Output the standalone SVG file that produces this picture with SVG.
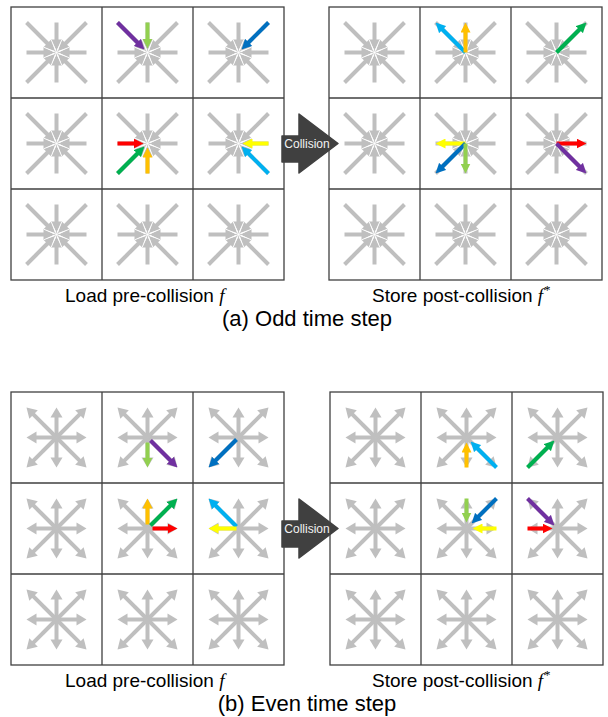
<svg xmlns="http://www.w3.org/2000/svg" width="608" height="717" viewBox="0 0 608 717">
<style>
  .grid{fill:#fff;stroke:#404040;stroke-width:1.3}
  .gl{fill:none;stroke:#404040;stroke-width:1.3}
  .gs{stroke:#bfbfbf;stroke-width:4;fill:none}
  .gh{fill:#bfbfbf}
  .sep{stroke:#fff;stroke-width:0.8}
  .c{stroke-width:4;fill:none}
  .purple{stroke:#7030a0;marker-end:url(#m-purple)}
  .lgreen{stroke:#92d050;marker-end:url(#m-lgreen)}
  .dblue{stroke:#0070c0;marker-end:url(#m-dblue)}
  .red{stroke:#ff0000;marker-end:url(#m-red)}
  .green{stroke:#00b050;marker-end:url(#m-green)}
  .orange{stroke:#ffc000;marker-end:url(#m-orange)}
  .yellow{stroke:#ffff00;marker-end:url(#m-yellow)}
  .lblue{stroke:#00b0f0;marker-end:url(#m-lblue)}
  .label{font-family:"Liberation Sans",Arial,sans-serif;font-size:19px;fill:#000}
  .math{font-family:"Liberation Serif","Times New Roman",serif;font-style:italic}
  .sup{font-family:"Liberation Serif","Times New Roman",serif;font-size:13px}
  .caption{font-size:22px;text-anchor:middle}
  .coll{fill:#404040;stroke:#404040;stroke-width:1.5;stroke-linejoin:round}
  .colltext{font-family:"Liberation Sans",Arial,sans-serif;font-size:12px;fill:#f2f2f2;text-anchor:middle}
</style>
<defs>
  <!-- coloured arrowheads -->
  <marker id="m-purple" viewBox="0 0 10 10" refX="3" refY="5" markerWidth="10" markerHeight="10" markerUnits="userSpaceOnUse" orient="auto"><path d="M0,0L10,5L0,10z" fill="#7030a0"/></marker>
  <marker id="m-lgreen" viewBox="0 0 10 10" refX="3" refY="5" markerWidth="10" markerHeight="10" markerUnits="userSpaceOnUse" orient="auto"><path d="M0,0L10,5L0,10z" fill="#92d050"/></marker>
  <marker id="m-dblue" viewBox="0 0 10 10" refX="3" refY="5" markerWidth="10" markerHeight="10" markerUnits="userSpaceOnUse" orient="auto"><path d="M0,0L10,5L0,10z" fill="#0070c0"/></marker>
  <marker id="m-red" viewBox="0 0 10 10" refX="3" refY="5" markerWidth="10" markerHeight="10" markerUnits="userSpaceOnUse" orient="auto"><path d="M0,0L10,5L0,10z" fill="#ff0000"/></marker>
  <marker id="m-green" viewBox="0 0 10 10" refX="3" refY="5" markerWidth="10" markerHeight="10" markerUnits="userSpaceOnUse" orient="auto"><path d="M0,0L10,5L0,10z" fill="#00b050"/></marker>
  <marker id="m-orange" viewBox="0 0 10 10" refX="3" refY="5" markerWidth="10" markerHeight="10" markerUnits="userSpaceOnUse" orient="auto"><path d="M0,0L10,5L0,10z" fill="#ffc000"/></marker>
  <marker id="m-yellow" viewBox="0 0 10 10" refX="3" refY="5" markerWidth="10" markerHeight="10" markerUnits="userSpaceOnUse" orient="auto"><path d="M0,0L10,5L0,10z" fill="#ffff00"/></marker>
  <marker id="m-lblue" viewBox="0 0 10 10" refX="3" refY="5" markerWidth="10" markerHeight="10" markerUnits="userSpaceOnUse" orient="auto"><path d="M0,0L10,5L0,10z" fill="#00b0f0"/></marker>

  <!-- inward-pointing lattice arms (heads meet at the node) -->
  <g id="armInA"><line class="gs" x1="30" y1="0" x2="12" y2="0"/><polygon class="gh" points="2,0 13,-5.5 13,5.5"/></g>
  <g id="armInD"><line class="gs" x1="42.4" y1="0" x2="12" y2="0"/><polygon class="gh" points="2,0 13,-5.5 13,5.5"/></g>
  <g id="starIn">
    <use href="#armInA"/>
    <use href="#armInA" transform="rotate(90)"/>
    <use href="#armInA" transform="rotate(180)"/>
    <use href="#armInA" transform="rotate(270)"/>
    <use href="#armInD" transform="rotate(45)"/>
    <use href="#armInD" transform="rotate(135)"/>
    <use href="#armInD" transform="rotate(225)"/>
    <use href="#armInD" transform="rotate(315)"/>
    <circle r="2.5" fill="#bfbfbf"/>
    <g class="sep">
      <line x1="0" y1="0" x2="14" y2="0" transform="rotate(22.5)"/>
      <line x1="0" y1="0" x2="14" y2="0" transform="rotate(67.5)"/>
      <line x1="0" y1="0" x2="14" y2="0" transform="rotate(112.5)"/>
      <line x1="0" y1="0" x2="14" y2="0" transform="rotate(157.5)"/>
      <line x1="0" y1="0" x2="14" y2="0" transform="rotate(202.5)"/>
      <line x1="0" y1="0" x2="14" y2="0" transform="rotate(247.5)"/>
      <line x1="0" y1="0" x2="14" y2="0" transform="rotate(292.5)"/>
      <line x1="0" y1="0" x2="14" y2="0" transform="rotate(337.5)"/>
    </g>
  </g>

  <!-- outward-pointing lattice arms -->
  <g id="armOutA"><line class="gs" x1="0" y1="0" x2="21" y2="0"/><polygon class="gh" points="30,0 20,-6 20,6"/></g>
  <g id="armOutD"><line class="gs" x1="0" y1="0" x2="33.4" y2="0"/><polygon class="gh" points="42.4,0 32.4,-6 32.4,6"/></g>
  <g id="starOut">
    <use href="#armOutA"/>
    <use href="#armOutA" transform="rotate(90)"/>
    <use href="#armOutA" transform="rotate(180)"/>
    <use href="#armOutA" transform="rotate(270)"/>
    <use href="#armOutD" transform="rotate(45)"/>
    <use href="#armOutD" transform="rotate(135)"/>
    <use href="#armOutD" transform="rotate(225)"/>
    <use href="#armOutD" transform="rotate(315)"/>
  </g>

  <path id="gridLines" class="gl" d="M91,0V273M182,0V273M0,91H273M0,182H273"/>
</defs>

<!-- (a) odd step: load -->
<g id="odd-load" transform="translate(11,7)">
  <rect class="grid" width="273" height="273"/>
  <use href="#gridLines"/>
  <g id="odd-load-r0c0" transform="translate(45.5,45.5)"><use href="#starIn"/></g>
  <g id="odd-load-r0c1" transform="translate(136.5,45.5)"><use href="#starIn"/>
    <line class="c purple" x1="-30" y1="-30" x2="-8" y2="-8"/>
    <line class="c lgreen" x1="0" y1="-30" x2="0" y2="-11"/>
  </g>
  <g id="odd-load-r0c2" transform="translate(227.5,45.5)"><use href="#starIn"/>
    <line class="c dblue" x1="30" y1="-30" x2="8" y2="-8"/>
  </g>
  <g id="odd-load-r1c0" transform="translate(45.5,136.5)"><use href="#starIn"/></g>
  <g id="odd-load-r1c1" transform="translate(136.5,136.5)"><use href="#starIn"/>
    <line class="c red" x1="-30" y1="0" x2="-11" y2="0"/>
    <line class="c green" x1="-30" y1="30" x2="-8" y2="8"/>
    <line class="c orange" x1="0" y1="30" x2="0" y2="11"/>
  </g>
  <g id="odd-load-r1c2" transform="translate(227.5,136.5)"><use href="#starIn"/>
    <line class="c yellow" x1="30" y1="0" x2="11" y2="0"/>
    <line class="c lblue" x1="30" y1="30" x2="8" y2="8"/>
  </g>
  <g id="odd-load-r2c0" transform="translate(45.5,227.5)"><use href="#starIn"/></g>
  <g id="odd-load-r2c1" transform="translate(136.5,227.5)"><use href="#starIn"/></g>
  <g id="odd-load-r2c2" transform="translate(227.5,227.5)"><use href="#starIn"/></g>
</g>

<!-- (a) odd step: store -->
<g id="odd-store" transform="translate(329,7)">
  <rect class="grid" width="273" height="273"/>
  <use href="#gridLines"/>
  <g id="odd-store-r0c0" transform="translate(45.5,45.5)"><use href="#starIn"/></g>
  <g id="odd-store-r0c1" transform="translate(136.5,45.5)"><use href="#starIn"/>
    <line class="c lblue" x1="0" y1="0" x2="-25" y2="-25"/>
    <line class="c orange" x1="0" y1="0" x2="0" y2="-23"/>
  </g>
  <g id="odd-store-r0c2" transform="translate(227.5,45.5)"><use href="#starIn"/>
    <line class="c green" x1="0" y1="0" x2="25" y2="-25"/>
  </g>
  <g id="odd-store-r1c0" transform="translate(45.5,136.5)"><use href="#starIn"/></g>
  <g id="odd-store-r1c1" transform="translate(136.5,136.5)"><use href="#starIn"/>
    <line class="c yellow" x1="0" y1="0" x2="-23" y2="0"/>
    <line class="c dblue" x1="0" y1="0" x2="-25" y2="25"/>
    <line class="c lgreen" x1="0" y1="0" x2="0" y2="23"/>
  </g>
  <g id="odd-store-r1c2" transform="translate(227.5,136.5)"><use href="#starIn"/>
    <line class="c red" x1="0" y1="0" x2="23" y2="0"/>
    <line class="c purple" x1="0" y1="0" x2="25" y2="25"/>
  </g>
  <g id="odd-store-r2c0" transform="translate(45.5,227.5)"><use href="#starIn"/></g>
  <g id="odd-store-r2c1" transform="translate(136.5,227.5)"><use href="#starIn"/></g>
  <g id="odd-store-r2c2" transform="translate(227.5,227.5)"><use href="#starIn"/></g>
</g>

<!-- (b) even step: load -->
<g id="even-load" transform="translate(11,392)">
  <rect class="grid" width="273" height="273"/>
  <use href="#gridLines"/>
  <g id="even-load-r0c0" transform="translate(45.5,45.5)"><use href="#starOut"/></g>
  <g id="even-load-r0c1" transform="translate(136.5,45.5)"><use href="#starOut"/>
    <line class="c lgreen" x1="0" y1="5" x2="0" y2="23"/>
    <line class="c purple" x1="3" y1="3" x2="25" y2="25"/>
  </g>
  <g id="even-load-r0c2" transform="translate(227.5,45.5)"><use href="#starOut"/>
    <line class="c dblue" x1="-2" y1="2" x2="-25" y2="25"/>
  </g>
  <g id="even-load-r1c0" transform="translate(45.5,136.5)"><use href="#starOut"/></g>
  <g id="even-load-r1c1" transform="translate(136.5,136.5)"><use href="#starOut"/>
    <line class="c orange" x1="0" y1="-4" x2="0" y2="-23"/>
    <line class="c green" x1="3" y1="-3" x2="25" y2="-25"/>
    <line class="c red" x1="5" y1="0" x2="23" y2="0"/>
  </g>
  <g id="even-load-r1c2" transform="translate(227.5,136.5)"><use href="#starOut"/>
    <line class="c lblue" x1="-2" y1="-2" x2="-25" y2="-25"/>
    <line class="c yellow" x1="-2" y1="0" x2="-23" y2="0"/>
  </g>
  <g id="even-load-r2c0" transform="translate(45.5,227.5)"><use href="#starOut"/></g>
  <g id="even-load-r2c1" transform="translate(136.5,227.5)"><use href="#starOut"/></g>
  <g id="even-load-r2c2" transform="translate(227.5,227.5)"><use href="#starOut"/></g>
</g>

<!-- (b) even step: store -->
<g id="even-store" transform="translate(330,392)">
  <rect class="grid" width="273" height="273"/>
  <use href="#gridLines"/>
  <g id="even-store-r0c0" transform="translate(45.5,45.5)"><use href="#starOut"/></g>
  <g id="even-store-r0c1" transform="translate(136.5,45.5)"><use href="#starOut"/>
    <line class="c orange" x1="0" y1="30" x2="0" y2="12"/>
    <line class="c lblue" x1="30" y1="30" x2="9" y2="9"/>
  </g>
  <g id="even-store-r0c2" transform="translate(227.5,45.5)"><use href="#starOut"/>
    <line class="c green" x1="-30" y1="30" x2="-8" y2="8"/>
  </g>
  <g id="even-store-r1c0" transform="translate(45.5,136.5)"><use href="#starOut"/></g>
  <g id="even-store-r1c1" transform="translate(136.5,136.5)"><use href="#starOut"/>
    <line class="c lgreen" x1="0" y1="-30" x2="0" y2="-13"/>
    <line class="c dblue" x1="30" y1="-30" x2="10" y2="-10"/>
    <line class="c yellow" x1="30" y1="0" x2="13" y2="0"/>
  </g>
  <g id="even-store-r1c2" transform="translate(227.5,136.5)"><use href="#starOut"/>
    <line class="c purple" x1="-30" y1="-30" x2="-8" y2="-8"/>
    <line class="c red" x1="-30" y1="0" x2="-12" y2="0"/>
  </g>
  <g id="even-store-r2c0" transform="translate(45.5,227.5)"><use href="#starOut"/></g>
  <g id="even-store-r2c1" transform="translate(136.5,227.5)"><use href="#starOut"/></g>
  <g id="even-store-r2c2" transform="translate(227.5,227.5)"><use href="#starOut"/></g>
</g>

<!-- collision block arrows -->
<g id="connectors">
  <g id="collision-odd">
    <path class="coll" d="M282,136H299V114L338,143.5L299,173V162H282Z"/>
    <text class="colltext" x="307" y="147.5">Collision</text>
  </g>
  <g id="collision-even" transform="translate(0,385)">
    <path class="coll" d="M282,136H299V114L338,143.5L299,173V162H282Z"/>
    <text class="colltext" x="307" y="147.5">Collision</text>
  </g>
</g>

<!-- captions -->
<g id="labels">
  <text class="label" x="65" y="302">Load pre-collision <tspan class="math">f</tspan></text>
  <text class="label" x="372" y="302">Store post-collision <tspan class="math">f</tspan><tspan class="sup" dx="1" dy="-8">*</tspan></text>
  <text class="label caption" x="307" y="326">(a) Odd time step</text>
  <text class="label" x="65" y="687">Load pre-collision <tspan class="math">f</tspan></text>
  <text class="label" x="372" y="687">Store post-collision <tspan class="math">f</tspan><tspan class="sup" dx="1" dy="-8">*</tspan></text>
  <text class="label caption" x="307" y="711">(b) Even time step</text>
</g>
</svg>
